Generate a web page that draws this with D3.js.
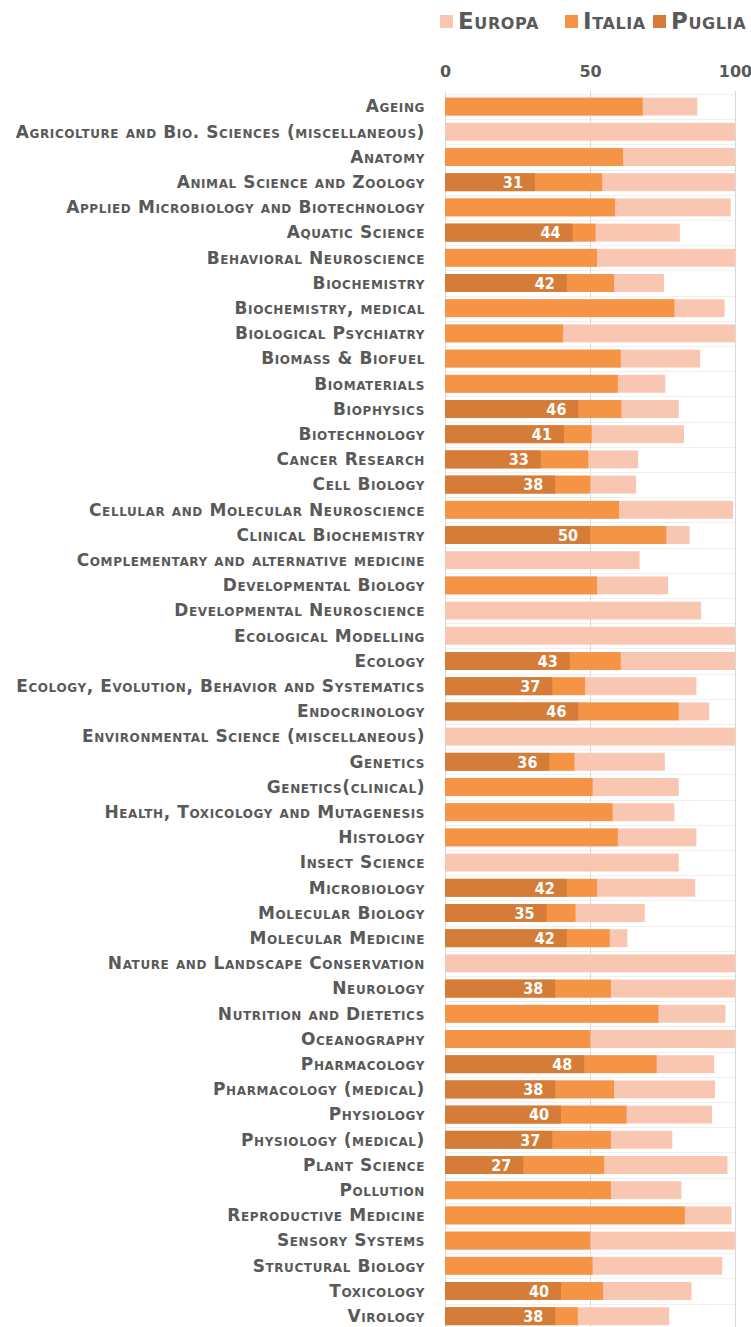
<!DOCTYPE html>
<html>
<head>
<meta charset="utf-8">
<script src="https://cdn.jsdelivr.net/npm/d3@7"></script>
<style>
  body { margin: 0; background: #fff; }
  text { font-family: "DejaVu Sans", sans-serif; }
</style>
</head>
<body>
<script>
// categorie
var categorie = [
  "Ageing", "Agricolture and Bio. Sciences (miscellaneous)", "Anatomy",
  "Animal Science and Zoology", "Applied Microbiology and Biotechnology",
  "Aquatic Science", "Behavioral Neuroscience", "Biochemistry",
  "Biochemistry, medical", "Biological Psychiatry", "Biomass & Biofuel",
  "Biomaterials", "Biophysics", "Biotechnology", "Cancer Research",
  "Cell Biology", "Cellular and Molecular Neuroscience", "Clinical Biochemistry",
  "Complementary and alternative medicine", "Developmental Biology",
  "Developmental Neuroscience", "Ecological Modelling", "Ecology",
  "Ecology, Evolution, Behavior and Systematics", "Endocrinology",
  "Environmental Science (miscellaneous)", "Genetics", "Genetics(clinical)",
  "Health, Toxicology and Mutagenesis", "Histology", "Insect Science",
  "Microbiology", "Molecular Biology", "Molecular Medicine",
  "Nature and Landscape Conservation", "Neurology", "Nutrition and Dietetics",
  "Oceanography", "Pharmacology", "Pharmacology (medical)", "Physiology",
  "Physiology (medical)", "Plant Science", "Pollution", "Reproductive Medicine",
  "Sensory Systems", "Structural Biology", "Toxicology", "Virology"
]

// valori (null = nessun dato)
var europa = [87, 100, 100, 100, 98.5, 81, 100, 75.5, 96.4, 100, 88, 76,
  80.6, 82.4, 66.6, 65.9, 99.3, 84.3, 67.1, 76.9, 88.3, 100, 100, 86.7, 91.1,
  100, 75.8, 80.6, 79.1, 86.7, 80.6, 86.3, 68.9, 62.9, 100, 100, 96.7, 100,
  92.8, 93.1, 92.1, 78.4, 97.4, 81.5, 98.8, 100, 95.6, 85, 77.3]

var italia = [68.2, null, 61.4, 54.2, 58.6, 51.9, 52.4, 58.3, 79.1, 40.7,
  60.6, 59.6, 60.8, 50.6, 49.4, 50.1, 60, 76.3, null, 52.4, null, null, 60.6,
  48.3, 80.6, null, 44.6, 50.9, 57.8, 59.6, null, 52.4, 45, 56.8, null, 57.2,
  73.6, 50.1, 73, 58.3, 62.6, 57.2, 54.9, 57.2, 82.7, 50.1, 50.9, 54.5, 45.8]

var puglia = [null, null, null, 31, null, 44, null, 42, null, null, null,
  null, 46, 41, 33, 38, null, 50, null, null, null, null, 43, 37, 46, null,
  36, null, null, null, null, 42, 35, 42, null, 38, null, null, 48, 38, 40,
  37, 27, null, null, null, null, 40, 38]

var serie = ["Europa", "Italia", "Puglia"]
var colori = ["#f9c6b2", "#f69446", "#d47c38"]
var tickValori = [0, 50, 100]

var width = 751
var height = 1327

var margin = { top: 94, left: 445, right: 16 }
var passo = 25.2

var escalaX = d3.scaleLinear()
    .domain([0, 100])
    .range([margin.left, width - margin.right])

var escalaY = d3.scaleBand()
    .domain(categorie)
    .range([margin.top, margin.top + categorie.length * passo])
    .paddingInner(0.29)
    .paddingOuter(0.145)

var svg = d3.select("body")
    .append("svg")
    .attr("width", width)
    .attr("height", height)

// righe orizzontali leggere
svg.append("g")
    .selectAll("line")
    .data(d3.range(categorie.length + 1))
    .enter()
    .append("line")
    .attr("x1", escalaX(0))
    .attr("x2", escalaX(100))
    .attr("y1", i => Math.round(margin.top + i * passo) + 0.5)
    .attr("y2", i => Math.round(margin.top + i * passo) + 0.5)
    .attr("stroke", "#f0f0f0")

// griglia verticale
svg.append("g")
    .selectAll("line")
    .data(tickValori)
    .enter()
    .append("line")
    .attr("x1", d => escalaX(d) + 0.5)
    .attr("x2", d => escalaX(d) + 0.5)
    .attr("y1", margin.top - 3)
    .attr("y2", height)
    .attr("stroke", "#d9d9d9")

// barre
var valori = [europa, italia, puglia]
valori.forEach(function (arr, s) {
  svg.append("g")
    .selectAll("rect")
    .data(categorie.map((c, i) => ({ c: c, v: arr[i] })).filter(d => d.v != null))
    .enter()
    .append("rect")
    .attr("x", escalaX(0))
    .attr("y", d => escalaY(d.c))
    .attr("width", d => escalaX(d.v) - escalaX(0))
    .attr("height", escalaY.bandwidth())
    .attr("fill", colori[s])
})

// etichette Puglia
svg.append("g")
  .selectAll("text")
  .data(categorie.map((c, i) => ({ c: c, v: puglia[i] })).filter(d => d.v != null))
  .enter()
  .append("text")
  .attr("x", d => escalaX(d.v) - 12)
  .attr("y", d => escalaY(d.c) + escalaY.bandwidth() / 2)
  .attr("dy", "0.36em")
  .attr("text-anchor", "end")
  .attr("fill", "#fff")
  .attr("font-size", 16)
  .attr("font-weight", "bold")
  .style("font-family", "'DejaVu Sans Condensed', sans-serif")
  .text(d => d.v)

// etichette categorie
svg.append("g")
  .selectAll("text")
  .data(categorie)
  .enter()
  .append("text")
  .attr("x", 425)
  .attr("y", d => escalaY(d) + escalaY.bandwidth() / 2)
  .attr("dy", "0.34em")
  .attr("text-anchor", "end")
  .attr("fill", "#595959")
  .attr("font-size", 17)
  .attr("font-weight", "bold")
  .style("letter-spacing", "0.6px")
  .style("font-variant", "small-caps")
  .text(d => d)

// asse X in alto
var ejeX = d3.axisTop(escalaX)
    .tickValues(tickValori)
    .tickSize(0)
    .tickPadding(0)

var gAsse = svg.append("g")
    .attr("transform", "translate(0,77)")
    .call(ejeX)
gAsse.select(".domain").remove()
gAsse.selectAll("text")
    .attr("font-family", null)
    .attr("font-size", 16)
    .attr("font-weight", "bold")
    .attr("fill", "#595959")

// legenda
var legX = [440, 565, 653]
var leg = svg.append("g")
  .selectAll("g")
  .data(serie)
  .enter()
  .append("g")
  .attr("transform", (d, i) => "translate(" + legX[i] + ",15)")
leg.append("rect")
  .attr("width", 13)
  .attr("height", 13)
  .attr("fill", (d, i) => colori[i])
leg.append("text")
  .attr("x", 18)
  .attr("y", 14)
  .attr("fill", "#595959")
  .attr("font-size", 23)
  .attr("font-weight", "bold")
  .style("letter-spacing", "0.6px")
  .style("font-variant", "small-caps")
  .text(d => d)
</script>
</body>
</html>
